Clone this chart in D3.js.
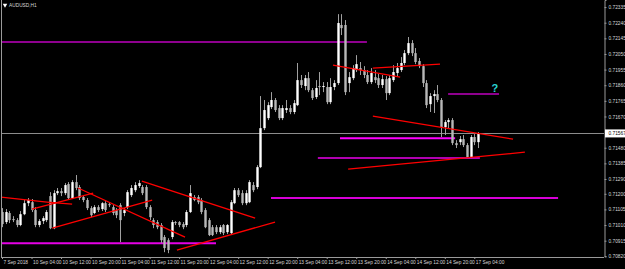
<!DOCTYPE html>
<html>
<head>
<meta charset="utf-8">
<script src="https://cdn.jsdelivr.net/npm/d3@7"></script>
<style>
  html, body { margin: 0; padding: 0; background: #000; }
  svg { display: block; }
  text { font-family: "Liberation Sans", Arial, sans-serif; }
</style>
</head>
<body>
<div id="chart"></div>
<script>
// AUDUSD H1, 7 Sep 2018 20:00 .. 17 Sep 2018 05:00 (bar index 0..129)
var symbolTitle = "AUDUSD,H1";

var open = [0.71089,0.71028,0.71083,0.71046,0.71040,0.71010,0.71076,0.71143,0.71149,0.71101,
  0.71010,0.71034,0.71040,0.71186,0.70991,0.71204,0.71216,0.71204,0.71259,0.71174,
  0.71271,0.71241,0.71180,0.71162,0.71113,0.71083,0.71119,0.71107,0.71143,0.71137,
  0.71119,0.71101,0.71131,0.71083,0.71119,0.71192,0.71222,0.71247,0.71241,0.71241,
  0.71119,0.71040,0.71028,0.71010,0.70937,0.70918,0.70937,0.71028,0.71028,0.71016,
  0.71010,0.71089,0.71180,0.71180,0.71162,0.71101,0.71040,0.70997,0.70997,0.70967,
  0.71010,0.70967,0.70961,0.71143,0.71222,0.71204,0.71143,0.71149,0.71253,0.71241,
  0.71362,0.71599,0.71660,0.71727,0.71770,0.71721,0.71660,0.71709,0.71721,0.71697,
  0.71739,0.71891,0.71855,0.71903,0.71830,0.71788,0.71855,0.71849,0.71849,0.71757,
  0.71849,0.71873,0.72226,0.72226,0.71873,0.71903,0.71952,0.71964,0.71952,0.71922,
  0.71879,0.71909,0.71903,0.71861,0.71897,0.71812,0.71891,0.71934,0.71952,0.71995,
  0.72055,0.72116,0.72055,0.72007,0.71976,0.71873,0.71745,0.71794,0.71806,0.71770,
  0.71605,0.71636,0.71648,0.71508,0.71514,0.71532,0.71496,0.71423,0.71545,0.71514];

var high = [0.71113,0.71107,0.71095,0.71064,0.71052,0.71095,0.71162,0.71174,0.71168,0.71119,
  0.71046,0.71064,0.71101,0.71210,0.71222,0.71235,0.71235,0.71265,0.71271,0.71283,
  0.71314,0.71253,0.71192,0.71174,0.71125,0.71131,0.71131,0.71149,0.71155,0.71149,
  0.71131,0.71113,0.71143,0.71113,0.71222,0.71253,0.71271,0.71283,0.71253,0.71253,
  0.71131,0.71052,0.71040,0.71022,0.70949,0.70930,0.71040,0.71034,0.71034,0.71028,
  0.71101,0.71253,0.71192,0.71192,0.71174,0.71113,0.71052,0.71010,0.71010,0.71010,
  0.71016,0.71016,0.71162,0.71235,0.71235,0.71222,0.71222,0.71283,0.71271,0.71374,
  0.71794,0.71770,0.71757,0.71818,0.71782,0.71739,0.71739,0.71770,0.71739,0.71770,
  0.71995,0.71922,0.71922,0.71940,0.71843,0.71891,0.71940,0.71879,0.71879,0.71903,
  0.71891,0.72292,0.72292,0.72256,0.71940,0.71982,0.72043,0.72001,0.71976,0.71952,
  0.71964,0.71952,0.71928,0.71922,0.71915,0.71922,0.71982,0.71995,0.72031,0.72074,
  0.72153,0.72134,0.72086,0.72025,0.71988,0.71891,0.71812,0.71830,0.71861,0.71782,
  0.71648,0.71660,0.71660,0.71526,0.71551,0.71557,0.71508,0.71557,0.71563,0.71575];

var low = [0.70997,0.71016,0.71022,0.71028,0.70997,0.71003,0.71070,0.71125,0.71089,0.70997,
  0.70997,0.71016,0.71028,0.70985,0.70985,0.71192,0.71186,0.71192,0.71168,0.71168,
  0.71222,0.71162,0.71149,0.71101,0.71058,0.71076,0.71089,0.71095,0.71089,0.71119,
  0.71070,0.71052,0.70906,0.71064,0.71107,0.71180,0.71210,0.71235,0.71192,0.71107,
  0.71040,0.70991,0.70985,0.70900,0.70845,0.70839,0.70924,0.71010,0.70997,0.70985,
  0.70997,0.71083,0.71155,0.71137,0.71076,0.70991,0.70943,0.70943,0.70955,0.70955,
  0.70949,0.70955,0.70955,0.71137,0.71180,0.71131,0.71131,0.71143,0.71210,0.71228,
  0.71356,0.71587,0.71648,0.71715,0.71697,0.71648,0.71648,0.71691,0.71684,0.71684,
  0.71733,0.71843,0.71830,0.71818,0.71770,0.71776,0.71800,0.71818,0.71745,0.71745,
  0.71830,0.71861,0.72165,0.71800,0.71818,0.71891,0.71940,0.71922,0.71903,0.71867,
  0.71867,0.71873,0.71843,0.71843,0.71770,0.71800,0.71879,0.71915,0.71940,0.71982,
  0.72043,0.72037,0.71988,0.71964,0.71849,0.71721,0.71697,0.71691,0.71757,0.71545,
  0.71557,0.71599,0.71496,0.71478,0.71496,0.71484,0.71417,0.71417,0.71496,0.71478];

var close = [0.71016,0.71089,0.71040,0.71040,0.71010,0.71076,0.71143,0.71162,0.71101,0.71010,
  0.71034,0.71052,0.71089,0.70991,0.71204,0.71216,0.71204,0.71253,0.71174,0.71271,
  0.71235,0.71174,0.71162,0.71113,0.71070,0.71119,0.71101,0.71143,0.71101,0.71131,
  0.71083,0.71070,0.71040,0.71101,0.71210,0.71235,0.71253,0.71265,0.71204,0.71119,
  0.71058,0.71010,0.70997,0.70918,0.70870,0.70858,0.71028,0.71022,0.71010,0.70997,
  0.71089,0.71204,0.71162,0.71149,0.71089,0.70997,0.70949,0.70949,0.70967,0.70997,
  0.70961,0.71010,0.71149,0.71222,0.71192,0.71143,0.71204,0.71271,0.71222,0.71362,
  0.71599,0.71709,0.71739,0.71770,0.71709,0.71660,0.71721,0.71721,0.71697,0.71751,
  0.71891,0.71861,0.71903,0.71830,0.71782,0.71843,0.71849,0.71855,0.71757,0.71849,
  0.71873,0.72238,0.72207,0.71818,0.71909,0.71964,0.71988,0.71952,0.71922,0.71879,
  0.71934,0.71891,0.71861,0.71897,0.71812,0.71903,0.71940,0.71964,0.71995,0.72055,
  0.72116,0.72055,0.72001,0.71976,0.71873,0.71739,0.71794,0.71806,0.71770,0.71605,
  0.71636,0.71648,0.71508,0.71496,0.71532,0.71496,0.71423,0.71545,0.71514,0.71567];

var bidPrice = 0.71567;

var yTicks = [0.72335,0.72240,0.72145,0.72050,0.71955,0.71860,0.71765,0.71670,
  0.71480,0.71385,0.71290,0.71200,0.71105,0.71010,0.70915,0.70820];

var xTickBars = [0,8,16,24,32,40,48,56,64,72,80,88,96,104,112,120,128];
var xTickLabels = ["7 Sep 2018","10 Sep 04:00","10 Sep 12:00","10 Sep 20:00","11 Sep 04:00",
  "11 Sep 12:00","11 Sep 20:00","12 Sep 04:00","12 Sep 12:00","12 Sep 20:00","13 Sep 04:00",
  "13 Sep 12:00","13 Sep 20:00","14 Sep 04:00","14 Sep 12:00","14 Sep 20:00","17 Sep 04:00"];

// trend lines: [bar1, price1, bar2, price2]
var trendLines = [
  [-0.5, 0.71180, 12.2, 0.71149],
  [8.1, 0.71107, 24.7, 0.71204],
  [12.2, 0.71149, 19.0, 0.71137],
  [20.6, 0.71235, 49.6, 0.70937],
  [13.6, 0.70991, 40.7, 0.71162],
  [37.9, 0.71277, 68.6, 0.71052],
  [47.4, 0.70858, 74.0, 0.71028],
  [89.7, 0.71982, 107.9, 0.71909],
  [100.5, 0.71964, 118.7, 0.71988],
  [100.5, 0.71672, 138.5, 0.71532],
  [93.8, 0.71350, 141.7, 0.71453]
];

// horizontal levels: [price, fromBar, toBar]
var levelPrices = [0.72122, 0.71806, 0.71538, 0.71417, 0.71174, 0.70900];
var levelFrom   = [-0.5, 120.9, 91.6, 85.6, 72.9, -0.5];
var levelTo     = [98.9, 134.7, 122.8, 129.5, 150.7, 58.0];
var levelColors = ["#8e008e", "#8e008e", "#ff00ff", "#b000b0", "#d800d8", "#e600e6"];

var noteText = "?";
var noteBar = 133.6, notePrice = 0.71840;

var width = 625, height = 269;
var plotRight = 604, plotBottom = 257;

var svg = d3.select("#chart").append("svg")
  .attr("width", width)
  .attr("height", height)
  .style("background", "#000");

var x = d3.scaleLinear().domain([0, 129]).range([2, 478]);
var y = d3.scaleLinear().domain([0.70820, 0.72378]).range([256.3, 0]);

svg.append("clipPath").attr("id", "plotClip")
  .append("rect").attr("x", 1).attr("y", 0).attr("width", plotRight - 1).attr("height", plotBottom);

var plot = svg.append("g").attr("clip-path", "url(#plotClip)");

// bid line
plot.append("line")
  .attr("x1", 0).attr("x2", plotRight)
  .attr("y1", Math.round(y(bidPrice)) + 0.5).attr("y2", Math.round(y(bidPrice)) + 0.5)
  .attr("stroke", "#8c8c8c").attr("stroke-width", 1);

// horizontal levels
plot.selectAll(".level")
  .data(levelPrices)
  .enter().append("line")
  .attr("class", "level")
  .attr("x1", (d, i) => x(levelFrom[i]))
  .attr("x2", (d, i) => x(levelTo[i]))
  .attr("y1", d => y(d)).attr("y2", d => y(d))
  .attr("stroke", (d, i) => levelColors[i])
  .attr("stroke-width", 2);

// candles
var idx = d3.range(open.length);

plot.selectAll(".wick")
  .data(idx)
  .enter().append("line")
  .attr("class", "wick")
  .attr("x1", i => Math.round(x(i)) + 0.5)
  .attr("x2", i => Math.round(x(i)) + 0.5)
  .attr("y1", i => y(high[i]))
  .attr("y2", i => y(low[i]))
  .attr("stroke", "#a0a0a0")
  .attr("stroke-width", 1);

plot.selectAll(".body")
  .data(idx)
  .enter().append("rect")
  .attr("class", "body")
  .attr("x", i => Math.round(x(i)) - 0.7)
  .attr("width", 2.4)
  .attr("y", i => y(Math.max(open[i], close[i])))
  .attr("height", i => Math.max(1, Math.abs(y(open[i]) - y(close[i]))))
  .attr("fill", i => close[i] >= open[i] ? "#ffffff" : "#b8b8b8");

// trend lines
plot.selectAll(".trend")
  .data(trendLines)
  .enter().append("line")
  .attr("class", "trend")
  .attr("x1", d => x(d[0])).attr("y1", d => y(d[1]))
  .attr("x2", d => x(d[2])).attr("y2", d => y(d[3]))
  .attr("stroke", "#ff0000")
  .attr("stroke-width", 1.3);

plot.append("text")
  .attr("x", x(noteBar)).attr("y", y(notePrice))
  .attr("text-anchor", "middle")
  .attr("dy", "0.35em")
  .style("font-size", "11px")
  .style("font-weight", "bold")
  .attr("fill", "#2ad4d4")
  .text(noteText);

// frame
svg.append("line")
  .attr("x1", 1.5).attr("x2", 1.5).attr("y1", 0).attr("y2", plotBottom)
  .attr("stroke", "#9a9a9a");
svg.append("line")
  .attr("x1", 1).attr("x2", plotRight).attr("y1", plotBottom + 0.5).attr("y2", plotBottom + 0.5)
  .attr("stroke", "#9a9a9a");

// right price axis
var yAxis = svg.append("g")
  .attr("transform", "translate(" + (plotRight + 0.5) + ",0)")
  .call(d3.axisRight(y).tickValues(yTicks).tickSize(2).tickPadding(2)
    .tickFormat(d3.format(".5f")));
yAxis.select(".domain").attr("stroke", "#9a9a9a");
yAxis.selectAll(".tick line").attr("stroke", "#9a9a9a");
yAxis.selectAll(".tick text")
  .attr("fill", "#d8d8d8")
  .style("font-size", "4.8px")
  .style("font-family", "'Liberation Sans', Arial, sans-serif");

// bid label
var bidY = y(bidPrice);
svg.append("rect")
  .attr("x", plotRight + 1).attr("y", bidY - 4)
  .attr("width", width - plotRight - 1).attr("height", 8)
  .attr("fill", "#ffffff");
svg.append("text")
  .attr("x", plotRight + 4.5).attr("y", bidY)
  .attr("dy", "0.35em")
  .style("font-size", "4.8px")
  .attr("fill", "#000")
  .text(d3.format(".5f")(bidPrice));

// bottom time axis
var xAxis = svg.append("g")
  .attr("transform", "translate(0," + plotBottom + ")")
  .call(d3.axisBottom(x).tickValues(xTickBars).tickSize(2).tickPadding(2)
    .tickFormat((d, i) => xTickLabels[i]));
xAxis.select(".domain").remove();
xAxis.selectAll(".tick line").attr("stroke", "#9a9a9a");
xAxis.selectAll(".tick text")
  .attr("text-anchor", "start")
  .attr("dx", "0.2em")
  .attr("fill", "#d8d8d8")
  .style("font-size", "4.8px")
  .style("font-family", "'Liberation Sans', Arial, sans-serif");

// title
svg.append("path")
  .attr("d", d3.symbol(d3.symbolTriangle).size(9))
  .attr("transform", "translate(5,5) rotate(180)")
  .attr("fill", "#ffffff");
svg.append("text")
  .attr("x", 9).attr("y", 5)
  .attr("dy", "0.35em")
  .style("font-size", "4.8px")
  .attr("fill", "#d8d8d8")
  .text(symbolTitle);
</script>
</body>
</html>
